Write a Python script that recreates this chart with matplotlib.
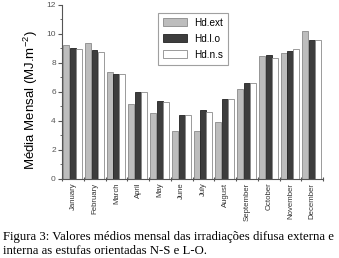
import numpy as np
import matplotlib
matplotlib.use('Agg')
import matplotlib.pyplot as plt
from matplotlib.ticker import MultipleLocator

plt.rcParams['mathtext.fontset'] = 'custom'
plt.rcParams['mathtext.rm'] = 'Liberation Sans'
plt.rcParams['mathtext.it'] = 'Liberation Sans'

months = ['January', 'February', 'March', 'April', 'May', 'June', 'July',
          'August', 'September', 'October', 'November', 'December']
hdExt = [9.24, 9.38, 7.38, 5.17, 4.55, 3.31, 3.29, 3.91, 6.18, 8.44, 8.69, 10.2]
hdLO = [9.03, 8.85, 7.22, 5.95, 5.36, 4.41, 4.74, 5.52, 6.60, 8.55, 8.80, 9.54]
hdNS = [8.97, 8.76, 7.22, 5.98, 5.29, 4.39, 4.60, 5.47, 6.60, 8.32, 8.94, 9.54]

fig = plt.figure(figsize=(3.39, 2.58), dpi=100, facecolor='w')
ax = fig.add_axes([0.183, 0.308, 0.770, 0.673])

x = np.arange(len(months))
w = 0.27
ax.bar(x + 0.05, hdExt, w, align='edge', color='#bdbdbd', edgecolor='#8a8a8a', lw=0.6, label='Hd.ext')
ax.bar(x + 0.36, hdLO, w, align='edge', color='#3d3d3d', edgecolor='#222222', lw=0.6, label='Hd.l.o')
ax.bar(x + 0.64, hdNS, w, align='edge', color='w', edgecolor='#8a8a8a', lw=0.6, label='Hd.n.s')

ax.set_xlim(0, 12)
ax.set_ylim(0, 12)
ax.set_xticks(np.arange(0, 13))
ax.set_xticklabels([])
ax.set_xticks(x + 0.5, minor=True)
ax.set_xticklabels(months, minor=True, rotation=90, fontsize=5.6, color='#333333',
                   family='Liberation Sans')
ax.tick_params(axis='x', which='minor', length=0, pad=3)
ax.tick_params(axis='x', which='major', length=3, direction='inout', color='#555555')
ax.yaxis.set_major_locator(MultipleLocator(2))
ax.yaxis.set_minor_locator(MultipleLocator(1))
ax.tick_params(axis='y', which='major', length=3, labelsize=6, labelcolor='#555555', color='#555555', pad=1.5)
ax.tick_params(axis='y', which='minor', length=1.5, color='#555555')
for t in ax.get_yticklabels():
    t.set_family('Liberation Sans')
for s in ['top', 'right']:
    ax.spines[s].set_visible(False)
for s in ['left', 'bottom']:
    ax.spines[s].set_color('#555555')
    ax.spines[s].set_linewidth(0.8)

ax.set_ylabel('Média Mensal (MJ.m$^{-2}$)', fontsize=9.5, family='Liberation Sans')
ax.yaxis.set_label_coords(-0.085, 0.45)

leg = ax.legend(loc='upper left', bbox_to_anchor=(0.35, 0.985), frameon=True,
                fancybox=False, edgecolor='#888888', handlelength=2.4, handleheight=0.85,
                borderpad=0.5, labelspacing=0.6, handletextpad=0.7,
                prop={'family': 'Liberation Sans', 'size': 7.2})
leg.get_frame().set_linewidth(0.8)

fig.text(0.008, 0.105, 'Figura 3: Valores médios mensal das irradiações difusa externa e\n'
         'interna as estufas orientadas N-S e L-O.', fontsize=9.2, family='Liberation Serif',
         va='top', ha='left', linespacing=1.2)

fig.savefig('out.png', dpi=100)
